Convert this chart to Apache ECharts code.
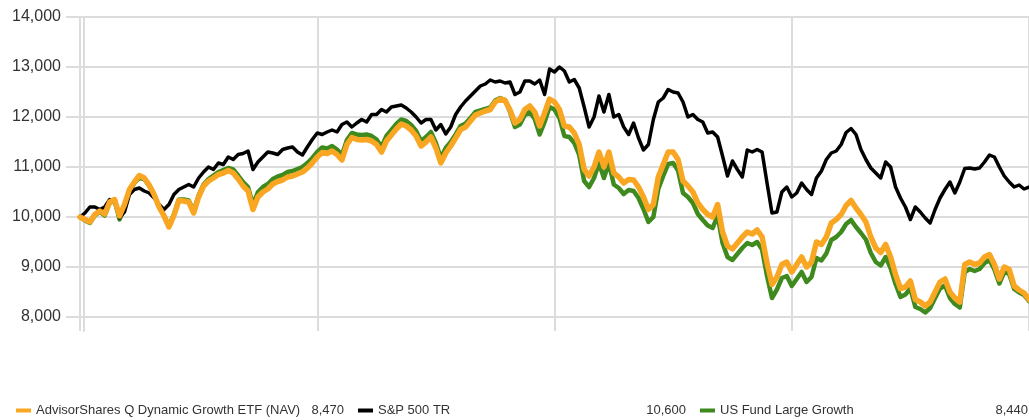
<!DOCTYPE html>
<html lang="en">
<head>
    <meta charset="UTF-8">
    <title>Growth of 10,000</title>
    <script src="https://cdn.jsdelivr.net/npm/echarts@6/dist/echarts.min.js"></script>
    <style>
        html, body { margin: 0; padding: 0; background: #fff; }
    </style>
</head>
<body>
    <div id="chart" style="width: 1029px; height: 420px;"></div>

    <script>
        // series names + last values shown in legend
        var names = ["AdvisorShares Q Dynamic Growth ETF (NAV)", "S&P 500 TR", "US Fund Large Growth"]
        var lastValues = ["8,470", "10,600", "8,440"]
        var colors = ["#F9A623", "#000000", "#3F8A1E"]

        // y tick labels
        var yTicks = [8000, 9000, 10000, 11000, 12000, 13000, 14000]

        var qDynamic = [
            10000, 9950, 9900, 10050, 10120, 10060, 10300, 10350, 10020, 10250,
            10550, 10700, 10830, 10780, 10640, 10450, 10200, 10020, 9800, 10030,
            10330, 10320, 10300, 10080, 10400, 10620, 10720, 10780, 10850, 10880,
            10930, 10880, 10760, 10620, 10520, 10150, 10400, 10500, 10560, 10660,
            10710, 10740, 10800, 10820, 10860, 10900, 10980, 11080, 11200, 11290,
            11270, 11320, 11250, 11140, 11450, 11590, 11550, 11540, 11550, 11520,
            11450, 11300, 11520, 11640, 11760, 11860, 11820, 11740, 11620, 11420,
            11500, 11600, 11380, 11080, 11280, 11420, 11580, 11750, 11800, 11920,
            12040, 12080, 12120, 12150, 12300, 12360, 12330, 12140, 11880, 11950,
            12150, 12220, 12100, 11820, 12080, 12360, 12300, 12150, 11820, 11800,
            11680, 11450, 10950, 10820, 11000, 11300, 11000, 11300, 10880, 10800,
            10680, 10750, 10740, 10600, 10400, 10150, 10250, 10800, 11050, 11300,
            11300, 11150, 10720, 10620, 10500, 10280, 10150, 10050, 10000, 10250,
            9700, 9420, 9360, 9480, 9600, 9700, 9660, 9740, 9600, 9080,
            8650, 8800, 9050, 9100, 8900, 9050, 9200, 9000, 9100, 9500,
            9450, 9600, 9880, 9950, 10050, 10230, 10330, 10180, 10050, 9900,
            9600, 9380, 9290, 9450, 9200, 8850, 8570, 8600, 8720, 8350,
            8300, 8220, 8300, 8500, 8700, 8760, 8500, 8380, 8300, 9050,
            9100, 9050, 9080, 9200, 9250, 9050, 8760, 9000, 8950, 8620,
            8540, 8480, 8350
        ]
        var sp500 = [
            10000, 10080, 10200, 10200, 10150, 10200, 10350, 10300, 9980, 10100,
            10450, 10550, 10580, 10520, 10480, 10380, 10250, 10150, 10250, 10450,
            10550, 10600, 10650, 10600, 10780, 10900, 11000, 10950, 11080, 11050,
            11200, 11150, 11250, 11270, 11320, 10950, 11100, 11200, 11300, 11280,
            11250, 11350, 11380, 11400, 11300, 11240, 11400, 11550, 11680, 11650,
            11700, 11740, 11700, 11850, 11900, 11800, 11880, 11950, 11900, 12050,
            12050, 12150, 12100, 12200, 12220, 12240, 12180, 12100, 12000, 11880,
            11950, 11950, 11740, 11850, 11660, 11800, 12050, 12200, 12320, 12420,
            12520, 12620, 12660, 12740, 12700, 12720, 12680, 12700, 12450, 12500,
            12720, 12720, 12660, 12740, 12450, 12960, 12900, 13000, 12920, 12700,
            12750, 12580, 12200, 11800, 12000, 12420, 12100, 12450, 12000, 12050,
            11800, 11650, 11880, 11580, 11340, 11450, 11950, 12300, 12380, 12550,
            12500, 12480, 12300, 12000, 12050, 11950, 11900, 11680, 11700, 11600,
            11220, 10820, 11120, 10950, 10800, 11340, 11300, 11350, 11300, 10680,
            10080, 10100, 10500, 10600, 10400, 10480, 10680, 10550, 10450, 10780,
            10920, 11150, 11280, 11320, 11450, 11690, 11770, 11650, 11350, 11150,
            10980, 10880, 10780, 11100, 11000, 10600, 10380, 10200, 9950, 10200,
            10100, 9980, 9880, 10150, 10380, 10550, 10700, 10480, 10700, 10970,
            10980, 10960, 10980, 11100, 11240, 11200, 11000, 10820, 10700, 10600,
            10640, 10560, 10600
        ]
        var largeGrowth = [
            10000, 9930, 9880, 10030, 10100, 10030, 10280, 10330, 9950, 10200,
            10520, 10680, 10780, 10760, 10620, 10440, 10200, 10030, 9820, 10050,
            10350, 10350, 10330, 10120, 10430, 10650, 10760, 10830, 10900, 10940,
            10980, 10950, 10830, 10700, 10600, 10250, 10500, 10600, 10660, 10760,
            10810, 10840, 10900, 10920, 10960, 11000, 11080, 11180, 11300, 11390,
            11370, 11420, 11350, 11240, 11540, 11680, 11650, 11640, 11650, 11620,
            11550, 11400, 11620, 11740, 11860, 11950, 11920, 11840, 11720, 11520,
            11600, 11700, 11480, 11180, 11380, 11500, 11650, 11820, 11870, 11980,
            12100, 12130, 12160, 12190, 12330, 12380, 12340, 12100, 11800, 11850,
            12040, 12100, 11960, 11650, 11900, 12200, 12150, 11980, 11620, 11600,
            11480, 11240, 10720, 10600, 10780, 11080, 10780, 11080, 10650, 10580,
            10460, 10540, 10520, 10380, 10160, 9900, 10000, 10560, 10820, 11060,
            11080, 10930, 10480, 10400, 10280, 10060, 9940, 9830, 9780, 10030,
            9480, 9200, 9140, 9260, 9380, 9480, 9440, 9500, 9350, 8820,
            8380, 8550, 8780, 8820, 8620, 8760, 8900, 8700, 8800, 9180,
            9130, 9270, 9540, 9600, 9700, 9860, 9940, 9800, 9680, 9550,
            9280, 9100, 9030, 9200, 8980, 8660, 8400, 8450, 8570, 8200,
            8160, 8090, 8180, 8380, 8570, 8630, 8380, 8260, 8190, 8900,
            8960, 8920, 8960, 9080, 9140, 8950, 8670, 8900, 8860, 8560,
            8490, 8440, 8320
        ]

        function toPoints(arr) {
            return arr.map(function (v, i) { return [i, v] })
        }

        var gridColor = "#DCDCDC"
        var nPts = qDynamic.length - 1   // 192 steps, 4 periods of 48
        var legendFont = "'Liberation Sans', Arial, sans-serif"

        var chart = echarts.init(document.getElementById("chart"))
        var option = {
            animation: false,
            grid: [
                // y labels + horizontal lines
                { left: 66, right: 0, top: 17, height: 300 },
                // data area + vertical lines (goes a bit below 8,000)
                { left: 80, right: 0, top: 17, height: 314 }
            ],
            xAxis: [
                { gridIndex: 0, type: "value", min: 0, max: 1, show: false },
                {
                    gridIndex: 1, type: "value", min: 0, max: nPts, interval: 48,
                    axisLine: { show: false },
                    axisTick: { show: false },
                    axisLabel: { show: false },
                    splitLine: { show: true, lineStyle: { color: gridColor, width: 2 } }
                }
            ],
            yAxis: [
                {
                    gridIndex: 0, type: "value",
                    min: yTicks[0], max: yTicks[yTicks.length - 1], interval: 1000,
                    axisLine: { show: false },
                    axisTick: { show: false },
                    axisLabel: {
                        margin: 5,
                        color: "#333",
                        fontFamily: "'Liberation Sans', Arial, sans-serif",
                        fontSize: 16,
                        formatter: function (v) { return v.toLocaleString("en-US") }
                    },
                    splitLine: { show: true, lineStyle: { color: gridColor, width: 2 } }
                },
                {
                    gridIndex: 1, type: "value", min: 7720, max: 14000,
                    offset: -4,
                    axisLine: { show: true, lineStyle: { color: gridColor, width: 2 } },
                    axisTick: { show: false },
                    axisLabel: { show: false },
                    splitLine: { show: false }
                }
            ],
            legend: {
                data: names,
                left: 11,
                top: 399,
                width: 1018,
                icon: "rect",
                itemWidth: 15,
                itemHeight: 4,
                itemGap: 14,
                selectedMode: false,
                formatter: function (name) {
                    var v = lastValues[names.indexOf(name)]
                    return "{n|" + name + "}{v|" + v + "}"
                },
                textStyle: {
                    color: "#333",
                    fontFamily: legendFont,
                    fontSize: 13,
                    rich: {
                        n: { width: 266, fontSize: 13, color: "#333", fontFamily: legendFont },
                        v: { width: 42, align: "right", fontSize: 13, color: "#333", fontFamily: legendFont }
                    }
                }
            },
            series: [
                {
                    name: names[2], type: "line", xAxisIndex: 1, yAxisIndex: 1,
                    data: toPoints(largeGrowth), symbol: "none",
                    color: colors[2],
                    lineStyle: { color: colors[2], width: 4.5, join: "round", cap: "round" }
                },
                {
                    name: names[1], type: "line", xAxisIndex: 1, yAxisIndex: 1,
                    data: toPoints(sp500), symbol: "none",
                    color: colors[1],
                    lineStyle: { color: colors[1], width: 3.5, join: "round", cap: "round" }
                },
                {
                    name: names[0], type: "line", xAxisIndex: 1, yAxisIndex: 1,
                    data: toPoints(qDynamic), symbol: "none",
                    color: colors[0],
                    lineStyle: { color: colors[0], width: 5.5, join: "round", cap: "round" }
                }
            ]
        }
        chart.setOption(option)
    </script>
</body>
</html>
